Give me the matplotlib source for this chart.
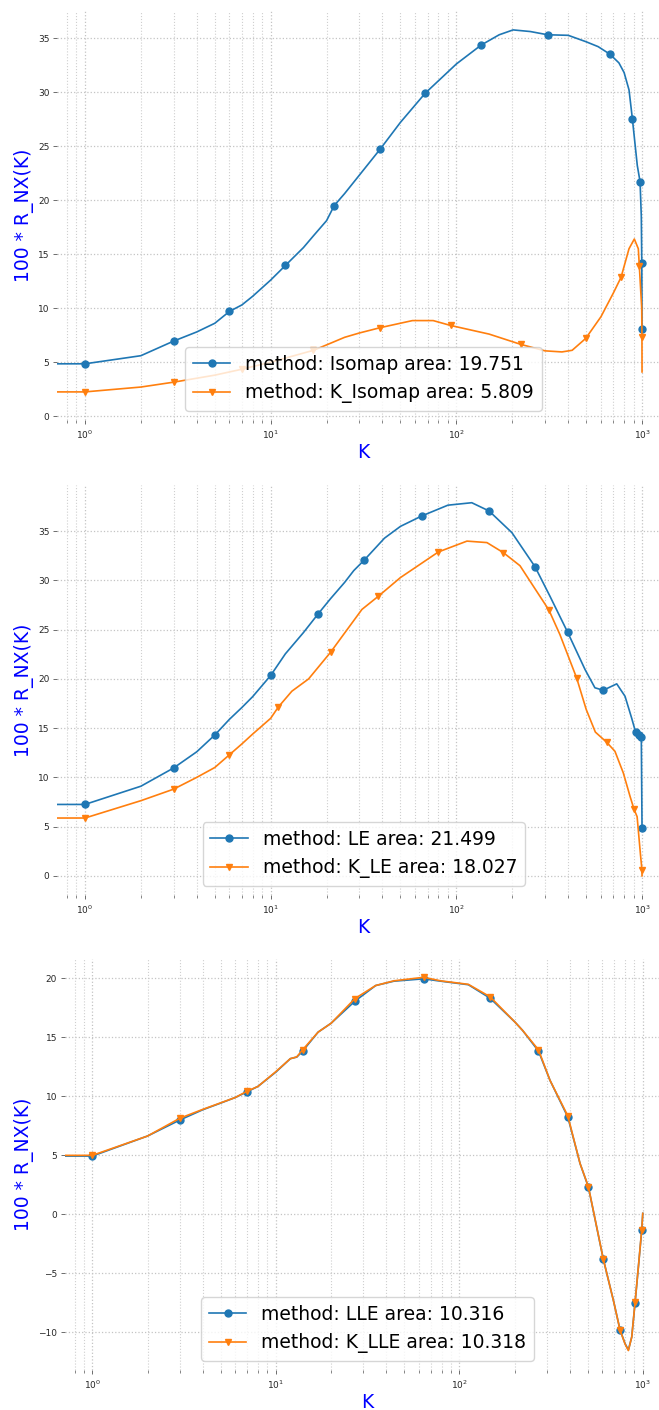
"""
R_NX(K) quality curves for three embeddings (Isomap, LE, LLE),
each compared against its K_ variant, on a log K axis.
"""
import matplotlib
matplotlib.use("Agg")
import matplotlib.pyplot as plt

# --- Isomap vs K_Isomap ---
isomap_k = [0, 1, 2, 3, 4, 5, 6, 7, 8, 10, 12, 15, 17, 20, 22, 25, 30, 39, 50, 68,
            100, 136, 170, 202, 250, 310, 400, 500, 580, 671, 750, 800, 850, 886,
            942, 975, 990, 996, 999]
isomap_r = [0, 4.85, 5.6, 6.95, 7.8, 8.6, 9.7, 10.3, 11.1, 12.6, 13.95, 15.6, 16.7,
            18.1, 19.5, 20.6, 22.3, 24.75, 27.2, 29.9, 32.6, 34.35, 35.3, 35.75,
            35.6, 35.3, 35.25, 34.65, 34.2, 33.5, 32.7, 31.8, 30.2, 27.55, 23.2,
            21.7, 18.5, 14.2, 8.1]
isomap_marks = [1, 3, 6, 12, 22, 39, 68, 136, 310, 671, 886, 975, 996, 999]

k_isomap_k = [0, 1, 2, 3, 5, 7, 10, 17, 20, 25, 30, 39, 58, 75, 93, 150, 222, 300,
              370, 420, 497, 600, 700, 770, 850, 908, 954, 966, 995, 998, 999]
k_isomap_r = [0, 2.25, 2.7, 3.15, 3.8, 4.35, 5.0, 6.1, 6.6, 7.3, 7.7, 8.2, 8.85,
              8.85, 8.4, 7.6, 6.65, 6.05, 5.95, 6.1, 7.2, 9.2, 11.4, 12.85, 15.5,
              16.4, 15.5, 13.9, 10.0, 7.3, 4.1]
k_isomap_marks = [1, 3, 7, 17, 39, 93, 222, 497, 770, 966, 998]

# --- LE vs K_LE ---
le_k = [0, 1, 2, 3, 4, 5, 6, 7, 8, 10, 12, 15, 18, 21, 25, 28, 32, 41, 50, 65, 90,
        121, 150, 199, 265, 319, 397, 493, 557, 618, 730, 809, 879, 923, 960, 990,
        999]
le_r = [0, 7.25, 9.1, 10.95, 12.6, 14.3, 15.9, 17.1, 18.2, 20.35, 22.55, 24.7, 26.6,
        28.15, 29.8, 31.0, 32.1, 34.3, 35.5, 36.55, 37.65, 37.9, 37.06, 34.86, 31.4,
        28.4, 24.75, 20.95, 19.1, 18.85, 19.5, 18.24, 16.0, 14.58, 14.35, 14.1, 4.85]
le_marks = [1, 3, 5, 10, 18, 32, 65, 150, 265, 397, 618, 923, 960, 990, 999]

k_le_k = [0, 1, 2, 3, 4, 5, 6, 7, 8, 10, 11, 13, 16, 21, 24, 31, 38, 50, 80, 114,
          146, 179, 220, 260, 315, 361, 444, 500, 560, 645, 714, 792, 861, 904, 940,
          980, 998, 999]
k_le_r = [0, 5.87, 7.63, 8.8, 10.0, 11.0, 12.3, 13.4, 14.4, 16.0, 17.15, 18.75, 20.0,
          22.7, 24.2, 27.06, 28.4, 30.3, 32.9, 34.0, 33.85, 32.83, 31.5, 29.4, 26.99,
          24.5, 20.1, 16.9, 14.6, 13.56, 12.65, 10.45, 8.07, 6.78, 6.0, 2.14, 0.6, 0.0]
k_le_marks = [1, 3, 6, 11, 21, 38, 80, 179, 315, 444, 645, 904, 998]

# --- LLE vs K_LLE ---
lle_k = [0, 1, 2, 3, 4, 5, 6, 7, 8, 10, 12, 13, 14, 17, 20, 27, 35, 44, 64, 79, 112,
         147, 201, 221, 270, 312, 390, 455, 505, 609, 691, 751, 800, 834, 870, 907,
         945, 986, 999]
lle_r = [0, 4.94, 6.64, 8.0, 8.87, 9.43, 9.9, 10.4, 10.85, 12.06, 13.2, 13.33, 13.84,
         15.45, 16.2, 18.08, 19.4, 19.77, 19.97, 19.77, 19.47, 18.33, 16.3, 15.6,
         13.84, 11.36, 8.25, 4.3, 2.31, -3.81, -7.29, -9.8, -10.96, -11.5, -10.4,
         -7.5, -4.5, -1.36, 0.08]
k_lle_r = [0, 5.0, 6.64, 8.15, 8.9, 9.45, 9.9, 10.45, 10.85, 12.1, 13.2, 13.35, 13.95,
           15.45, 16.2, 18.3, 19.4, 19.8, 20.1, 19.8, 19.5, 18.45, 16.3, 15.6, 13.95,
           11.36, 8.35, 4.3, 2.35, -3.8, -7.3, -9.8, -11.0, -11.55, -10.4, -7.45,
           -4.5, -1.3, 0.08]
lle_marks = [1, 3, 7, 14, 27, 64, 147, 270, 390, 505, 609, 751, 907, 986]

W, H = 659, 1410


def box(left, right, top, bottom):
    """Pixel box -> figure fraction rect."""
    return [left / W, 1 - bottom / H, (right - left) / W, (bottom - top) / H]


def plot_panel(fig, rect, curves, ylim):
    """Draw one R_NX(K) panel with two curves and a legend."""
    left, right, top, bottom = rect
    ax = fig.add_axes(box(left, right, top, bottom))
    ax.set_xscale('log')

    for k, r, marks, marker, label in curves:
        idx = [k.index(m) for m in marks]
        ax.plot(k, r, marker=marker, markevery=idx, ms=5, lw=1.2, label=label)

    ax.set_xlim(0.708, 1413)
    ax.set_ylim(*ylim)

    ax.grid(which='major', ls=':', color='#c4c4c4', lw=0.9)
    ax.grid(which='minor', axis='x', ls=':', color='#cfcfcf', lw=0.8)
    for s in ax.spines.values():
        s.set_visible(False)
    ax.tick_params(which='major', length=3, width=0.6, color='#555555',
                   labelsize=6.5, labelcolor='#262626')
    ax.tick_params(which='minor', length=2, width=0.5, color='#555555')
    ax.tick_params(axis='y', pad=2.5)

    ax.set_xlabel('K', color='blue', fontsize=13.5)
    ax.set_ylabel('100 * R_NX(K)', color='blue', fontsize=13.5)
    ax.xaxis.set_label_coords((left + right) / 2 / W, 1 - (bottom + 23) / H,
                              transform=fig.transFigure)
    ax.yaxis.set_label_coords(34.4 / W, 1 - (top + bottom) / 2 / H,
                              transform=fig.transFigure)

    ax.legend(loc='lower center', fontsize=13.5)
    return ax


fig = plt.figure(figsize=(W / 100, H / 100), dpi=100)

plot_panel(fig, (57.1, 670, 11, 420),
           [(isomap_k, isomap_r, isomap_marks, 'o', 'method: Isomap area: 19.751'),
            (k_isomap_k, k_isomap_r, k_isomap_marks, 'v', 'method: K_Isomap area: 5.809')],
           (-0.35, 37.5))

plot_panel(fig, (57.1, 670, 485, 895),
           [(le_k, le_r, le_marks, 'o', 'method: LE area: 21.499'),
            (k_le_k, k_le_r, k_le_marks, 'v', 'method: K_LE area: 18.027')],
           (-1.95, 39.7))

plot_panel(fig, (64.8, 670.4, 959, 1370),
           [(lle_k, lle_r, lle_marks, 'o', 'method: LLE area: 10.316'),
            (lle_k, k_lle_r, lle_marks, 'v', 'method: K_LLE area: 10.318')],
           (-13.2, 21.65))

fig.savefig('out.png', dpi=100)
